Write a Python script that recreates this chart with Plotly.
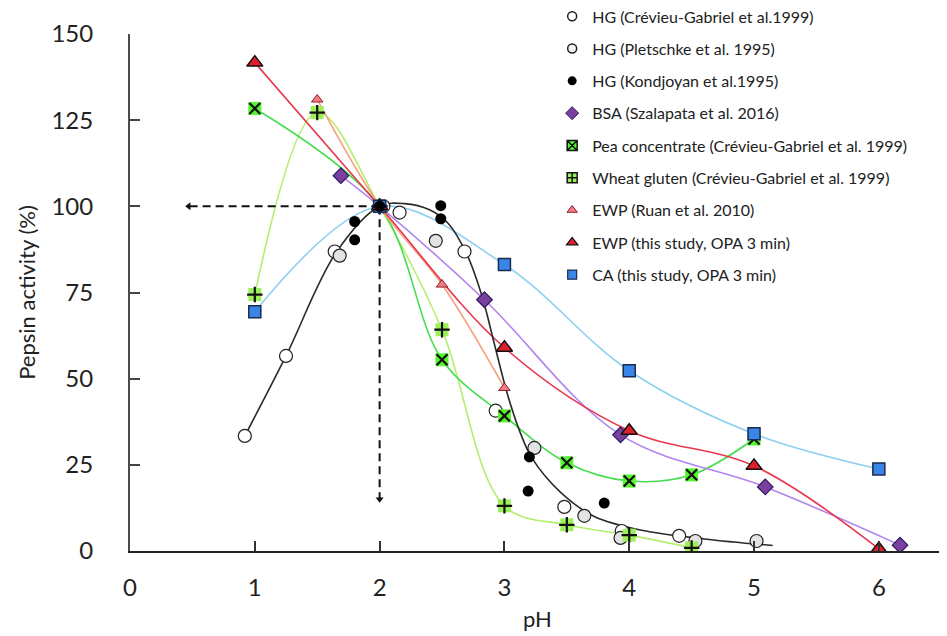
import plotly.graph_objects as go

# ---------------- data ----------------
hg_cg_x = [0.92, 1.25, 1.64, 2.03, 2.16, 2.68, 2.93, 3.48, 3.94, 4.40]
hg_cg_y = [33.4, 56.6, 86.9, 100.0, 98.2, 86.9, 40.7, 12.8, 5.8, 4.4]

hg_pl_x = [1.68, 2.45, 3.24, 3.64, 3.93, 4.53, 5.02]
hg_pl_y = [85.7, 90.0, 29.9, 10.2, 3.8, 2.9, 2.9]

hg_ko_x = [1.80, 1.80, 2.00, 2.49, 2.49, 3.20, 3.19, 3.80]
hg_ko_y = [95.6, 90.3, 100.0, 100.2, 96.4, 27.3, 17.4, 13.9]

hg_fit_x = [0.92, 1.25, 1.65, 2.0, 2.2, 2.4, 2.55, 2.7, 2.82, 2.92, 3.02, 3.12, 3.22, 3.45, 3.72, 4.1, 4.6, 5.15]
hg_fit_y = [33.4, 56.6, 86.5, 100.0, 100.8, 99.0, 95.0, 86.0, 74.0, 60.0, 46.0, 35.0, 27.0, 17.0, 10.0, 6.0, 3.5, 1.6]

bsa_x = [1.69, 2.0, 2.84, 3.93, 5.09, 6.17]
bsa_y = [108.9, 100.0, 72.9, 33.7, 18.6, 1.7]

pea_x = [1.0, 2.0, 2.5, 3.0, 3.5, 4.0, 4.5, 5.0]
pea_y = [128.4, 100.0, 55.5, 39.2, 25.6, 20.3, 22.1, 32.5]

wheat_x = [1.0, 1.5, 2.0, 2.5, 3.0, 3.5, 4.0, 4.5]
wheat_y = [74.4, 127.2, 100.0, 64.2, 13.1, 7.6, 4.6, 0.9]

ewp_ruan_x = [1.5, 2.0, 2.5, 3.0]
ewp_ruan_y = [131.0, 100.0, 77.3, 47.3]

ewp_this_x = [1.0, 2.0, 3.0, 4.0, 5.0, 6.0]
ewp_this_y = [141.7, 100.0, 59.0, 34.9, 24.7, 0.6]

ca_x = [1.0, 2.0, 3.0, 4.0, 5.0, 6.0]
ca_y = [69.4, 100.0, 83.1, 52.3, 34.0, 23.8]

# guide arrows (pH 2 -> 100 %)
arrow_h_x = [2.0, 0.47]
arrow_h_y = [100.0, 100.0]
arrow_v_x = [2.0, 2.0]
arrow_v_y = [100.0, 15.0]

legend_names = [
    "HG (Crévieu-Gabriel et al.1999)",
    "HG (Pletschke et al. 1995)",
    "HG (Kondjoyan et al.1995)",
    "BSA (Szalapata et al. 2016)",
    "Pea concentrate (Crévieu-Gabriel et al. 1999)",
    "Wheat gluten (Crévieu-Gabriel et al. 1999)",
    "EWP (Ruan et al. 2010)",
    "EWP (this study, OPA 3 min)",
    "CA (this study, OPA 3 min)",
]

x_ticks = [0, 1, 2, 3, 4, 5, 6]
y_ticks = [0, 25, 50, 75, 100, 125, 150]

FONT = "Lato"
fig = go.Figure()

def line(x, y, color, width=1.6):
    fig.add_trace(go.Scatter(x=x, y=y, mode="lines", showlegend=False, hoverinfo="skip",
                             line=dict(color=color, width=width, shape="spline", smoothing=1.0)))

# smooth lines
line(ca_x, ca_y, "#8fd0f2")
line(wheat_x, wheat_y, "#b4ee6a")
line(pea_x, pea_y, "#45dd4f")
line(ewp_ruan_x, ewp_ruan_y, "#f5a07e")
line(bsa_x, bsa_y, "#b184ee")
line(ewp_this_x, ewp_this_y, "#e8384f")
line(hg_fit_x, hg_fit_y, "#2a2a2a", 1.6)

# dashed guide arrows
fig.add_trace(go.Scatter(x=arrow_h_x, y=arrow_h_y, mode="lines", showlegend=False, hoverinfo="skip",
                         line=dict(color="#111", width=2, dash="8px,5px")))
fig.add_trace(go.Scatter(x=arrow_v_x, y=arrow_v_y, mode="lines", showlegend=False, hoverinfo="skip",
                         line=dict(color="#111", width=2, dash="8px,5px")))
fig.add_trace(go.Scatter(x=arrow_h_x[1:], y=arrow_h_y[1:], mode="markers", showlegend=False, hoverinfo="skip",
                         marker=dict(symbol="triangle-left", size=7, color="#111", line=dict(width=0))))
fig.add_trace(go.Scatter(x=arrow_v_x[1:], y=arrow_v_y[1:], mode="markers", showlegend=False, hoverinfo="skip",
                         marker=dict(symbol="triangle-down", size=7, color="#111", line=dict(width=0))))

def pts(x, y, **marker):
    fig.add_trace(go.Scatter(x=x, y=y, mode="markers", showlegend=False, marker=marker))

# markers
pts(hg_cg_x, hg_cg_y, symbol="circle", size=13, color="white", line=dict(color="#222", width=1.2))
pts(hg_pl_x, hg_pl_y, symbol="circle", size=13, color="#e3e3e3", line=dict(color="#222", width=1.2))
pts(wheat_x, wheat_y, symbol="square", size=13, color="#9cf05a", line=dict(width=0))
pts(wheat_x, wheat_y, symbol="cross-thin", size=11, color="#111", line=dict(color="#111", width=2.2))
pts(pea_x, pea_y, symbol="square", size=13, color="#55f530", line=dict(width=0))
pts(pea_x, pea_y, symbol="x-thin", size=11, color="#111", line=dict(color="#111", width=2.2))
pts(ewp_ruan_x, ewp_ruan_y, symbol="triangle-up", size=10, color="#f47c86", line=dict(color="#8a1f2a", width=1))
pts(bsa_x, bsa_y, symbol="diamond", size=12, color="#7b3fa0", line=dict(color="#2a1a5e", width=1.2))
pts(ca_x, ca_y, symbol="square", size=12, color="#3a86e8", line=dict(color="#1a2a50", width=1.5))
pts(ewp_this_x, ewp_this_y, symbol="triangle-up", size=14, color="#e01f2d", line=dict(color="#111", width=1.5))
pts(hg_ko_x, hg_ko_y, symbol="circle", size=11, color="#000", line=dict(width=0))

# legend entries (style only)
legend_styles = [
    dict(symbol="circle", size=9, color="white", line=dict(color="#222", width=1.5)),
    dict(symbol="circle", size=9, color="#f2f2f2", line=dict(color="#222", width=1.5)),
    dict(symbol="circle", size=9, color="#000", line=dict(width=0)),
    dict(symbol="diamond", size=10, color="#7b3fa0", line=dict(color="#2a1a5e", width=1)),
    dict(symbol="square-x", size=10, color="#55f530", line=dict(color="#111", width=1.5)),
    dict(symbol="square-cross", size=10, color="#9cf05a", line=dict(color="#111", width=1.5)),
    dict(symbol="triangle-up", size=9, color="#f47c86", line=dict(color="#8a1f2a", width=1)),
    dict(symbol="triangle-up", size=10, color="#e01f2d", line=dict(color="#111", width=1.2)),
    dict(symbol="square", size=9, color="#3a86e8", line=dict(color="#1a2a50", width=1.2)),
]
for i, (name, st) in enumerate(zip(legend_names, legend_styles)):
    fig.add_trace(go.Scatter(x=[None], y=[None], mode="markers", name=name, legendgroup=f"g{i}",
                             marker=st))

fig.update_layout(
    width=947, height=636,
    margin=dict(l=122, r=10, t=26, b=93, autoexpand=False),
    paper_bgcolor="white", plot_bgcolor="white",
    font=dict(family=FONT, color="#222"),
    showlegend=True,
    legend=dict(x=0.518, xanchor="left", y=1.067, yanchor="top", font=dict(family=FONT, size=16, color="#222"),
                traceorder="grouped", tracegroupgap=8.5, itemwidth=30, bgcolor="rgba(0,0,0,0)"),
    xaxis=dict(range=[0, 6.53], tickvals=x_ticks, ticks="inside", ticklen=10, tickwidth=1.5, tickcolor="#333",
               showline=True, linecolor="#222", linewidth=2, showgrid=False, zeroline=False,
               tickfont=dict(family=FONT, size=24, color="#222"), ticklabelstandoff=14, automargin=False,
               title=dict(text="pH", font=dict(family=FONT, size=22, color="#222"), standoff=12)),
    yaxis=dict(range=[0, 150], tickvals=y_ticks, ticks="inside", ticklen=10, tickwidth=1.5, tickcolor="#444",
               showline=True, linecolor="#4a4a4a", linewidth=2, showgrid=False, zeroline=False,
               tickfont=dict(family=FONT, size=24, color="#222"), ticklabelstandoff=30, automargin=False,
               title=dict(text="Pepsin activity (%)", font=dict(family=FONT, size=22, color="#222"), standoff=10)),
)

fig.write_html("out.html")
